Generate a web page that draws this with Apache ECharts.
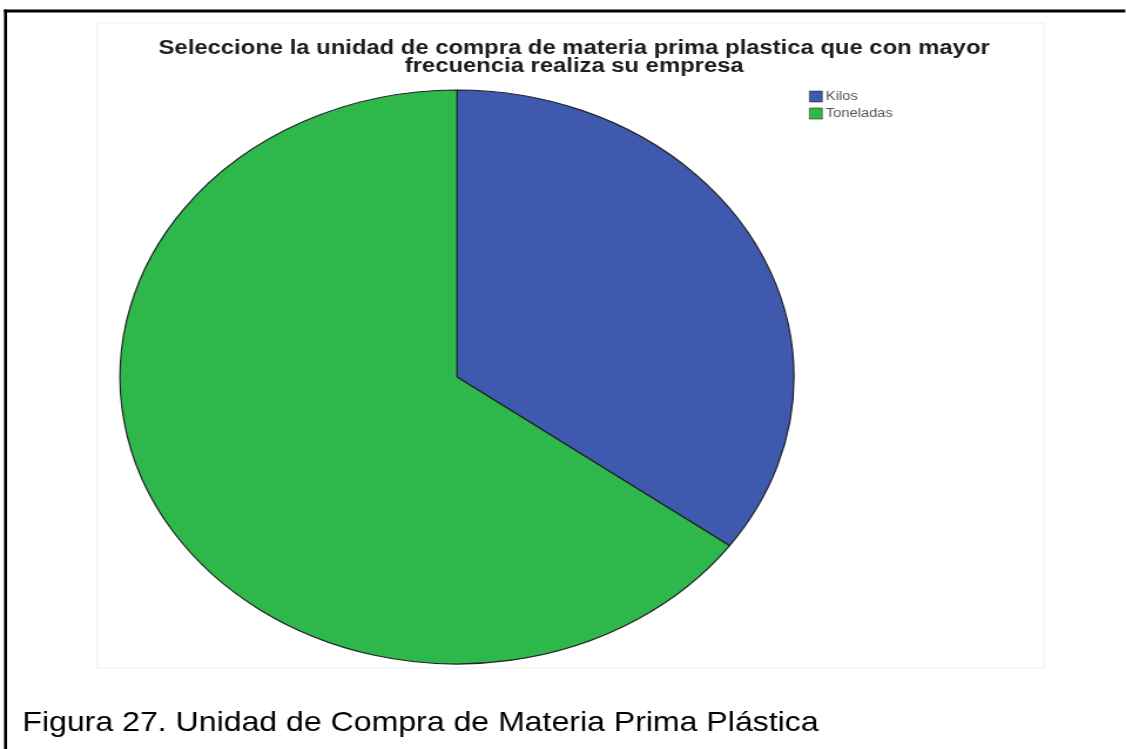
<!DOCTYPE html>
<html><head><meta charset="utf-8">
<script src="https://cdn.jsdelivr.net/npm/echarts@6/dist/echarts.min.js"></script>
<style>
html,body{margin:0;padding:0;background:#fff;overflow:hidden}
#wrap{width:1126px;height:749px;overflow:hidden;position:relative;background:#fff}
#c{width:959px;height:749px;transform:scaleX(1.1742);transform-origin:0 0}
</style></head><body><div id="wrap"><div id="c"></div></div>
<script>
const titleLines = ['Seleccione la unidad de compra de materia prima plastica que con mayor', 'frecuencia realiza su empresa'];
const categories = ['Kilos', 'Toneladas'];
const values = [35, 65];
const colors = ['#3e59ad', '#2eb84b'];
const caption = 'Figura 27. Unidad de Compra de Materia Prima Plástica';

const chart = echarts.init(document.getElementById('c'), null, {renderer: 'canvas'});
chart.setOption({
  animation: false,
  backgroundColor: '#ffffff',
  title: {
    text: titleLines.join('\n'),
    left: 484, top: 34, textAlign: 'center',
    textStyle: {fontFamily: 'Liberation Sans, Arial, sans-serif', fontWeight: 'bold', fontSize: 20.3, lineHeight: 18.5, color: '#1c1c1c'}
  },
  legend: {
    orient: 'vertical', left: 689, top: 90, padding: 0,
    itemWidth: 11, itemHeight: 11, itemGap: 4, icon: 'rect',
    itemStyle: {borderColor: '#333', borderWidth: 0.6},
    textStyle: {fontFamily: 'Liberation Sans, Arial, sans-serif', fontSize: 12.5, color: '#555', padding: [0, 0, 0, -2]},
    data: categories, selectedMode: false
  },
  graphic: [
    {type: 'rect', z: -10, shape: {x: 82.6, y: 23, width: 806.6, height: 645}, style: {fill: '#fff', stroke: '#f0f0f0', lineWidth: 1}},
    {type: 'rect', z: 10, shape: {x: 3.4, y: 9.5, width: 955, height: 3}, style: {fill: '#000'}},
    {type: 'rect', z: 10, shape: {x: 3.4, y: 9.5, width: 2.6, height: 745}, style: {fill: '#000'}},
    {type: 'text', z: 10, x: 19, y: 723, style: {text: caption, fontFamily: 'Liberation Sans, Arial, sans-serif', fontSize: 27.3, fill: '#000', verticalAlign: 'middle', align: 'left'}}
  ],
  series: [{
    type: 'pie', silent: true,
    center: [389.2, 377], radius: 287,
    startAngle: 90, clockwise: true,
    label: {show: false}, labelLine: {show: false},
    itemStyle: {borderColor: '#222', borderWidth: 1.2},
    emphasis: {disabled: true},
    data: categories.map((c, i) => ({name: c, value: values[i], itemStyle: {color: colors[i]}}))
  }]
});
</script></body></html>
